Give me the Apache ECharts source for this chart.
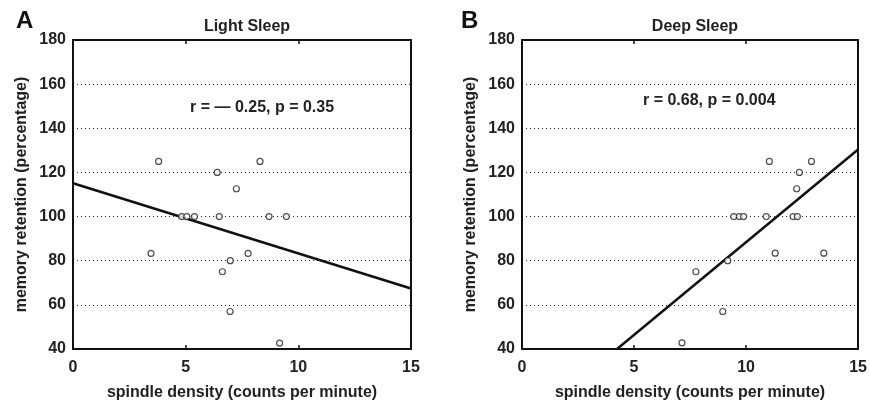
<!DOCTYPE html>
<html><head><meta charset="utf-8">
<script src="https://cdn.jsdelivr.net/npm/echarts@6/dist/echarts.min.js"></script>
<style>html,body{margin:0;padding:0;background:#fff}#c{width:870px;height:406px}</style>
</head><body><div id="c"></div>
<script>
var xTicks = [0, 5, 10, 15];
var yTicks = [40, 60, 80, 100, 120, 140, 160, 180];
var lightX = [3.8, 6.4, 8.3, 7.25, 4.82, 5.05, 5.39, 6.49, 8.7, 9.47, 3.46, 6.98, 7.77, 6.63, 6.97, 9.17];
var lightY = [125, 120, 125, 112.6, 100, 100, 100, 100, 100, 100, 83.3, 80, 83.3, 75, 57, 42.7];
var deepX = [11.04, 12.92, 12.38, 12.26, 9.45, 9.7, 9.89, 10.9, 12.1, 12.29, 11.3, 13.47, 9.18, 7.76, 8.96, 7.14];
var deepY = [125, 125, 120, 112.6, 100, 100, 100, 100, 100, 100, 83.4, 83.4, 80, 75, 57, 42.8];
var lightFitX = [0, 15];
var lightFitY = [115.1, 67.4];
var deepFitX = [4.24, 15];
var deepFitY = [40, 130.4];
var titles = ['Light Sleep', 'Deep Sleep'];
var panels = ['A', 'B'];
var stats = ['r = \u2014 0.25, p = 0.35', 'r = 0.68, p = 0.004'];
var xName = 'spindle density (counts per minute)';
var yName = 'memory retention (percentage)';

function zip(a, b) { return a.map(function (v, i) { return [v, b[i]]; }); }
var FONT = '"Liberation Sans", Arial, sans-serif';
var FS = 16;
var chart = echarts.init(document.getElementById('c'), null, {renderer: 'canvas'});
var grids = [
  {left: 73, right: 459, top: 40, bottom: 51},
  {left: 522, right: 11, top: 40, bottom: 51}
];
var xAxes = [], yAxes = [];
grids.forEach(function (g, i) {
  xAxes.push({
    gridIndex: i, type: 'value', min: xTicks[0], max: xTicks[xTicks.length - 1], interval: 5,
    name: xName, nameLocation: 'middle', nameGap: 36,
    nameTextStyle: {fontFamily: FONT, fontWeight: 'bold', fontSize: FS, color: '#222'},
    axisLine: {show: true, onZero: false, lineStyle: {color: '#111', width: 2}},
    axisTick: {show: true, inside: true, length: 4, lineStyle: {color: '#111', width: 1.5}},
    axisLabel: {margin: 11, fontFamily: FONT, fontWeight: 'bold', fontSize: FS, color: '#222'},
    splitLine: {show: false}
  });
  xAxes.push({
    gridIndex: i, type: 'value', position: 'top', min: 0, max: 15, interval: 5,
    axisLine: {show: true, onZero: false, lineStyle: {color: '#111', width: 2}},
    axisTick: {show: true, inside: true, length: 4, lineStyle: {color: '#111', width: 1.5}},
    axisLabel: {show: false}, splitLine: {show: false}
  });
  yAxes.push({
    gridIndex: i, type: 'value', min: yTicks[0], max: yTicks[yTicks.length - 1], interval: 20,
    name: yName, nameLocation: 'middle', nameGap: 43,
    nameTextStyle: {fontFamily: FONT, fontWeight: 'bold', fontSize: FS, color: '#222'},
    axisLine: {show: true, onZero: false, lineStyle: {color: '#111', width: 2}},
    axisTick: {show: false},
    axisLabel: {margin: 7, fontFamily: FONT, fontWeight: 'bold', fontSize: FS, color: '#222'},
    splitLine: {show: true, lineStyle: {color: '#222', width: 1, type: [1, 3]}}
  });
  yAxes.push({
    gridIndex: i, type: 'value', position: 'right', min: 40, max: 180, interval: 20,
    axisLine: {show: true, onZero: false, lineStyle: {color: '#111', width: 2}},
    axisTick: {show: false}, axisLabel: {show: false}, splitLine: {show: false}
  });
});
var scatterStyle = {color: '#fff', borderColor: '#222', borderWidth: 1.2};
chart.setOption({
  animation: false,
  backgroundColor: '#fff',
  grid: grids,
  xAxis: xAxes,
  yAxis: yAxes,
  title: [
    {text: panels[0], left: 11, top: 4, textStyle: {fontFamily: FONT, fontWeight: 'bold', fontSize: 24, color: '#111'}},
    {text: panels[1], left: 456, top: 4, textStyle: {fontFamily: FONT, fontWeight: 'bold', fontSize: 24, color: '#111'}},
    {text: titles[0], left: 242, top: 14, textAlign: 'center', textStyle: {fontFamily: FONT, fontWeight: 'bold', fontSize: FS, color: '#222'}},
    {text: titles[1], left: 690, top: 14, textAlign: 'center', textStyle: {fontFamily: FONT, fontWeight: 'bold', fontSize: FS, color: '#222'}}
  ],
  graphic: [
    {type: 'text', left: 190, top: 100, style: {text: stats[0], font: 'bold ' + FS + 'px ' + FONT, fill: '#222'}},
    {type: 'text', left: 643, top: 93, style: {text: stats[1], font: 'bold ' + FS + 'px ' + FONT, fill: '#222'}}
  ],
  series: [
    {type: 'line', xAxisIndex: 0, yAxisIndex: 0, data: zip(lightFitX, lightFitY), symbol: 'none', lineStyle: {color: '#111', width: 2.5}, z: 3},
    {type: 'scatter', xAxisIndex: 0, yAxisIndex: 0, data: zip(lightX, lightY), symbol: 'circle', symbolSize: 6, itemStyle: scatterStyle, z: 4},
    {type: 'line', xAxisIndex: 2, yAxisIndex: 2, data: zip(deepFitX, deepFitY), symbol: 'none', lineStyle: {color: '#111', width: 2.5}, z: 3},
    {type: 'scatter', xAxisIndex: 2, yAxisIndex: 2, data: zip(deepX, deepY), symbol: 'circle', symbolSize: 6, itemStyle: scatterStyle, z: 4}
  ]
});
</script></body></html>
